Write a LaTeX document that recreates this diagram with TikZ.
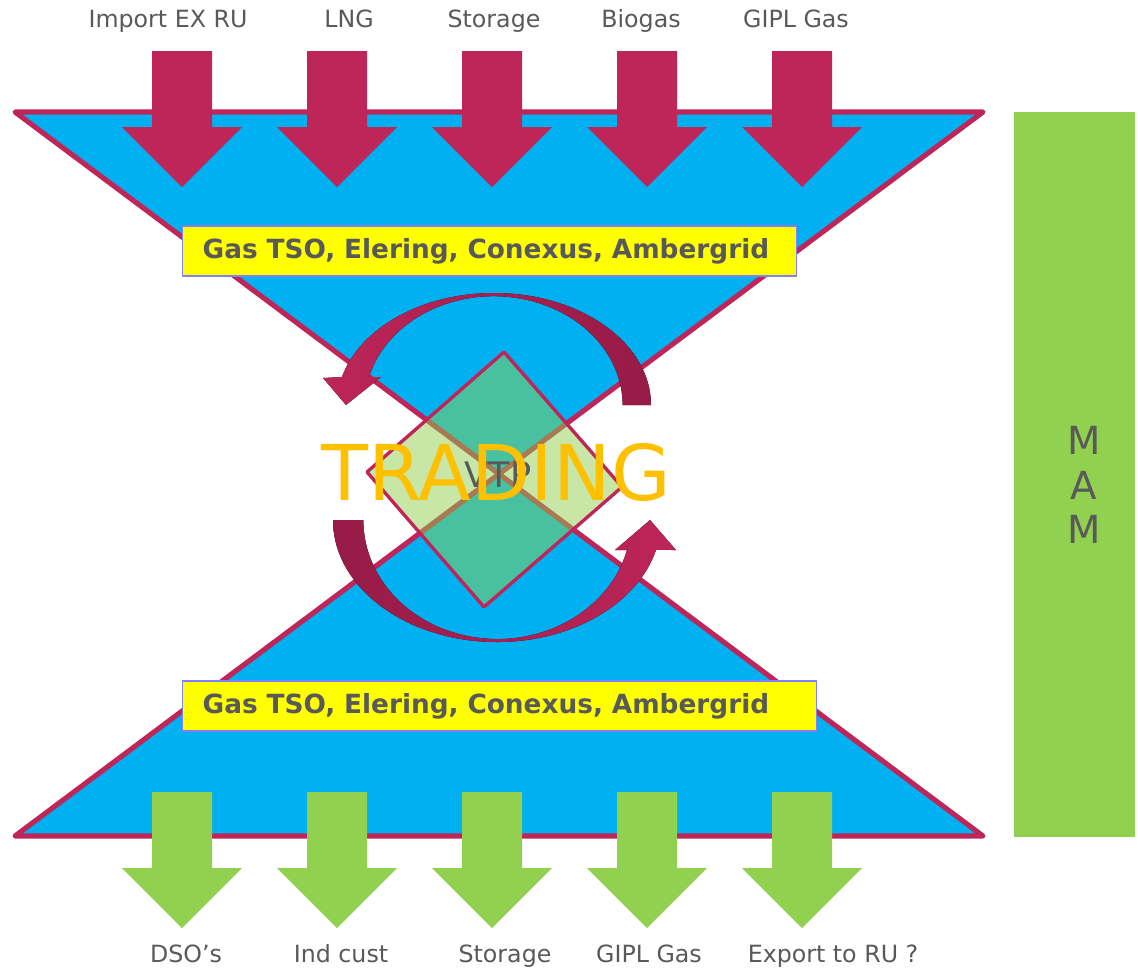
\documentclass[tikz,border=0pt]{standalone}
\usepackage{fontspec}
\setmainfont{DejaVu Sans}
\definecolor{funnelblue}{HTML}{00B0F0}
\definecolor{gasred}{HTML}{BE2558}
\definecolor{gasdark}{HTML}{961B47}
\definecolor{flowgreen}{HTML}{92D050}
\definecolor{labelgray}{HTML}{595959}
\definecolor{tradegold}{HTML}{FFC000}
\definecolor{boxedge}{HTML}{8080FF}
\definecolor{tsoyellow}{HTML}{FFFF00}
\begin{document}
\begin{tikzpicture}[x=0.02cm, y=-0.02cm, line join=round, font=\fontsize{13.5}{16}\selectfont,
	funnel/.style={fill=funnelblue, draw=gasred, line width=2.9pt},
	tsobox/.style={fill=tsoyellow, draw=boxedge, line width=0.8pt, anchor=west, align=left, inner xsep=0.4cm, minimum height=1cm, text=labelgray, font=\fontsize{15}{18}\selectfont\bfseries},
	flowlabel/.style={text=labelgray, anchor=base, inner sep=0pt},
	vtpbox/.style={fill=flowgreen, fill opacity=0.5, draw=gasred, line width=1.9pt}]
	\def\ytop{51} \def\ybot{792} % shaft tops of the block arrows
	\useasboundingbox (0,0) rectangle (1138,968);
	\draw[funnel] (15,112)--(983,112)--(499,474)--cycle;
	\draw[funnel] (15,836)--(983,836)--(499,474)--cycle;
	\foreach \ax/\lx/\lab [count=\i] in {182/168/Import EX RU, 337/349/LNG, 492/494/Storage, 647/641/Biogas, 802/796/GIPL Gas}{
		\fill[gasred] (\ax-30,\ytop)--(\ax+30,\ytop)--(\ax+30,\ytop+76)--(\ax+60,\ytop+76)--(\ax,\ytop+136)--(\ax-60,\ytop+76)--(\ax-30,\ytop+76)--cycle;
		\node[flowlabel] (src\i) at (\lx,27) {\lab};
	}
	\foreach \ax/\lx/\lab [count=\i] in {182/186/DSO’s, 337/341/Ind cust, 492/505/Storage, 647/649/GIPL Gas, 802/833/Export to RU ?}{
		\fill[flowgreen] (\ax-30,\ybot)--(\ax+30,\ybot)--(\ax+30,\ybot+76)--(\ax+60,\ybot+76)--(\ax,\ybot+136)--(\ax-60,\ybot+76)--(\ax-30,\ybot+76)--cycle;
		\node[flowlabel] (sink\i) at (\lx,962) {\lab};
	}
	\node[tsobox, text width=11.48cm] (tsoTop) at (182,251) {Gas TSO, Elering, Conexus, Ambergrid};
	\node[tsobox, text width=11.88cm] (tsoBot) at (182,706) {Gas TSO, Elering, Conexus, Ambergrid};
	\fill[left color=gasred, right color=gasdark] (651,405) arc[start angle=0, end angle=-165.5, x radius=157, y radius=112]
		--(323,378)--(346,405)--(381,377)--(369,377) arc[start angle=-165, end angle=0, x radius=129, y radius=109]--cycle;
	\fill[left color=gasdark, right color=gasred] (333,520) arc[start angle=180, end angle=14.2, x radius=164, y radius=122]
		--(676,550)--(650,520)--(615,550)--(627,550) arc[start angle=14.6, end angle=180, x radius=134, y radius=119]--cycle;
	\draw[vtpbox] (504,352)--(622,487)--(484,607)--(367,472)--cycle;
	\node[text=labelgray, font=\fontsize{20}{24}\selectfont] (vtp) at (498,475) {VTP};
	\node[text=tradegold, font=\fontsize{43.8}{52}\selectfont] (trading) at (496,472) {TRADING};
	\node[fill=flowgreen, minimum width=2.42cm, minimum height=14.5cm] (mam) at (1074.5,474.5) {};
	\node[text=labelgray, align=center, font=\fontsize{22}{25.5}\selectfont] (mamText) at (1084,485) {M\\A\\M};
\end{tikzpicture}
\end{document}
